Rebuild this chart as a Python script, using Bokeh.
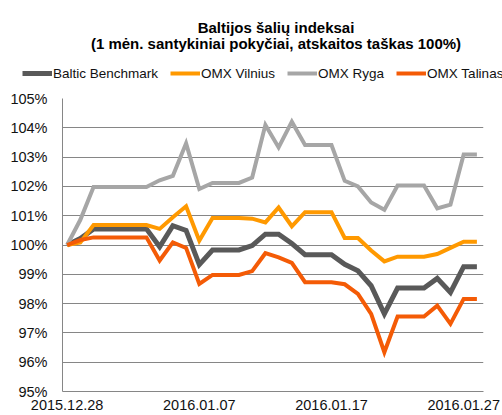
import pandas as pd
from bokeh.plotting import figure
from bokeh.layouts import column
from bokeh.models import Range1d, FixedTicker, Legend, LegendItem, Label
from bokeh.embed import file_html
from bokeh.resources import INLINE

# Calendar days (category axis), 2015.12.28 .. 2016.01.28
dates = [d.strftime("%Y.%m.%d") for d in pd.date_range("2015-12-28", "2016-01-28")]
x = list(range(len(dates)))

baltic_benchmark = [100.0, 100.22, 100.55, 100.55, 100.55, 100.55, 100.55, 99.94,
                    100.66, 100.5, 99.33, 99.83, 99.83, 99.83, 99.98, 100.37,
                    100.37, 100.05, 99.67, 99.67, 99.67, 99.34, 99.12, 98.61,
                    97.65, 98.53, 98.53, 98.53, 98.86, 98.38, 99.26, 99.26]
omx_vilnius = [100.0, 100.09, 100.68, 100.68, 100.68, 100.68, 100.68, 100.55,
               100.95, 101.32, 100.15, 100.92, 100.92, 100.92, 100.9, 100.77,
               101.28, 100.64, 101.12, 101.12, 101.12, 100.24, 100.24, 99.81,
               99.44, 99.6, 99.6, 99.6, 99.69, 99.9, 100.11, 100.11]
omx_ryga = [100.0, 100.86, 101.98, 101.98, 101.98, 101.98, 101.98, 102.21,
            102.36, 103.47, 101.91, 102.12, 102.12, 102.12, 102.3, 104.1,
            103.33, 104.21, 103.41, 103.41, 103.41, 102.19, 102.0, 101.45,
            101.2, 102.03, 102.03, 102.03, 101.25, 101.38, 103.09, 103.09]
omx_talinas = [100.0, 100.17, 100.26, 100.26, 100.26, 100.26, 100.26, 99.47,
               100.09, 99.9, 98.67, 98.98, 98.98, 98.98, 99.11, 99.72,
               99.58, 99.39, 98.73, 98.73, 98.73, 98.66, 98.33, 97.65,
               96.34, 97.56, 97.56, 97.56, 97.93, 97.31, 98.16, 98.16]

series = [baltic_benchmark, omx_vilnius, omx_ryga, omx_talinas]
series_names = ["Baltic Benchmark", "OMX Vilnius", "OMX Ryga", "OMX Talinas"]
series_colors = ["#595959", "#FF9900", "#A6A6A6", "#F45B06"]
series_widths = [5, 4, 4, 4]

y_ticks = [95, 96, 97, 98, 99, 100, 101, 102, 103, 104, 105]
y_tick_labels = [f"{t}%" for t in y_ticks]
x_ticks = [0, 10, 20, 30]

title_line1 = "Baltijos šalių indeksai"
title_line2 = "(1 mėn. santykiniai pokyčiai, atskaitos taškas 100%)"

FONT = "Liberation Sans"
TEXT = "#111111"
GRID = "#868686"

# ---------- header: title + legend ----------
HEAD_H = 88
head = figure(width=502, height=HEAD_H, output_backend="svg", toolbar_location=None,
              title=None, x_axis_location=None, y_axis_location=None,
              x_range=Range1d(-0.35, 31.5), y_range=Range1d(0, 1), min_border=0)
head.outline_line_color = None
head.xgrid.visible = False
head.ygrid.visible = False

for txt, yy in ((title_line1, HEAD_H - 26.7), (title_line2, HEAD_H - 42.5)):
    head.add_layout(Label(x=275.5, y=yy, x_units="screen", y_units="screen", text=txt,
                          text_align="center", text_baseline="alphabetic",
                          text_font=FONT, text_font_size="15px", text_font_style="bold",
                          text_color="#000000"))

# key renderers: same series, lying outside the header's visible range
key_renderers = [head.line(x, vals, line_color=c, line_width=w)
                 for vals, c, w in zip(series, series_colors, series_widths)]
legend = Legend(items=[LegendItem(label=n, renderers=[r]) for n, r in zip(series_names, key_renderers)],
                orientation="horizontal", location=(22, HEAD_H - 83),
                glyph_width=30, glyph_height=20, label_standoff=1, spacing=12,
                padding=0, margin=0, border_line_color=None, background_fill_alpha=0,
                label_text_font=FONT, label_text_font_size="13.5px", label_text_color=TEXT)
head.add_layout(legend)

# ---------- chart ----------
p = figure(width=502, height=415 - HEAD_H, output_backend="svg", toolbar_location=None,
           title=None, x_range=Range1d(-0.35, 31.5), y_range=Range1d(95, 105),
           min_border_left=62, min_border_right=19, min_border_top=10,
           min_border_bottom=24)
p.outline_line_color = None

for vals, c, w in zip(series, series_colors, series_widths):
    p.line(x, vals, line_color=c, line_width=w, line_join="miter")

for ax in (p.xaxis[0], p.yaxis[0]):
    ax.axis_line_color = GRID
    ax.axis_line_width = 1
    ax.major_tick_line_color = None
    ax.minor_tick_line_color = None
    ax.major_tick_out = 0
    ax.major_tick_in = 0
    ax.major_label_text_font = FONT
    ax.major_label_text_font_size = "14.5px"
    ax.major_label_text_color = TEXT

p.yaxis.ticker = FixedTicker(ticks=y_ticks)
p.yaxis.major_label_overrides = {t: l for t, l in zip(y_ticks, y_tick_labels)}
p.yaxis.major_label_standoff = 15

p.xaxis.ticker = FixedTicker(ticks=x_ticks)
p.xaxis.major_label_overrides = {t: dates[t] for t in x_ticks}
p.xaxis.major_label_standoff = 8

p.xgrid.visible = False
p.ygrid.ticker = FixedTicker(ticks=y_ticks[1:])
p.ygrid.grid_line_color = GRID
p.ygrid.grid_line_width = 1

# keep the header's frame full-width (no frame alignment between the two figures)
for fig in (head, p):
    try:
        fig.frame_align = False
    except Exception:
        pass

layout = column(head, p, spacing=0)
open("out.html", "w").write(file_html(layout, INLINE))
